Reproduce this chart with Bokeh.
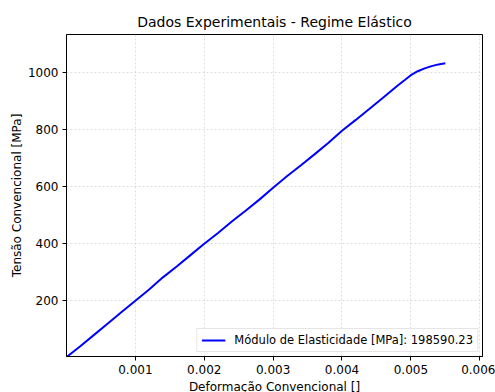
from bokeh.plotting import figure
from bokeh.models import FixedTicker, Range1d, Legend, LegendItem, CustomJSTickFormatter
from bokeh.embed import file_html
from bokeh.resources import INLINE

# Elastic-regime test data: conventional strain [-] and conventional stress [MPa]
strain = [0.0, 0.0002, 0.0004, 0.0006, 0.0008, 0.0010, 0.0012, 0.0014, 0.0016,
          0.0018, 0.0020, 0.0022, 0.0024, 0.0026, 0.0028, 0.0030, 0.0032, 0.0034,
          0.0036, 0.0038, 0.0040, 0.0042, 0.0044, 0.0046, 0.0048, 0.0050, 0.0051,
          0.0052, 0.0053, 0.0054, 0.0055]
stress = [0, 38, 78, 118, 158, 198, 237, 280, 318, 358, 398, 436, 476, 514, 553,
          595, 635, 673, 712, 752, 795, 833, 872, 912, 952, 990, 1004, 1014, 1022,
          1028, 1032]

x_ticks = [0.001, 0.002, 0.003, 0.004, 0.005, 0.006]
y_ticks = [200, 400, 600, 800, 1000]
legend_label = "Módulo de Elasticidade [MPa]: 198590.23"

FONT = "DejaVu Sans"

p = figure(frame_width=416, frame_height=322, output_backend="svg",
           toolbar_location=None,
           x_range=Range1d(0.0, 0.00604), y_range=Range1d(2, 1133),
           min_border_left=66, min_border_right=13, min_border_top=34,
           min_border_bottom=36)

p.title.text = "Dados Experimentais - Regime Elástico"
p.title.text_font = FONT
p.title.text_font_size = "14px"
p.title.text_font_style = "normal"
p.title.align = "center"
p.title.text_color = "#000000"

line = p.line(strain, stress, line_color="#0000ff", line_width=2)

p.xaxis.ticker = FixedTicker(ticks=x_ticks)
p.yaxis.ticker = FixedTicker(ticks=y_ticks)
p.xaxis.formatter = CustomJSTickFormatter(code="return tick.toFixed(3);")
p.xaxis.axis_label = "Deformação Convencional []"
p.yaxis.axis_label = "Tensão Convencional [MPa]"

for ax in (p.xaxis, p.yaxis):
    ax.axis_label_text_font = FONT
    ax.axis_label_text_font_size = "12px"
    ax.axis_label_text_font_style = "normal"
    ax.axis_label_text_color = "#000000"
    ax.major_label_text_font = FONT
    ax.major_label_text_font_size = "12px"
    ax.major_label_text_color = "#000000"
    ax.major_tick_in = 0
    ax.major_tick_out = 4
    ax.minor_tick_line_color = None
    ax.axis_line_color = "#000000"
    ax.major_tick_line_color = "#000000"
p.xaxis.major_label_standoff = 4
p.yaxis.major_label_standoff = 4
p.xaxis.axis_label_standoff = 3
p.yaxis.axis_label_standoff = 1

p.outline_line_color = "#000000"
p.outline_line_width = 1
p.outline_line_alpha = 1

p.xgrid.grid_line_color = "#c8c8c8"
p.ygrid.grid_line_color = "#c8c8c8"
p.xgrid.grid_line_dash = "2 2"
p.ygrid.grid_line_dash = "2 2"
p.xgrid.grid_line_width = 0.6
p.ygrid.grid_line_width = 0.6

legend = Legend(items=[LegendItem(label=legend_label, renderers=[line])],
                location="bottom_right")
legend.label_text_font = FONT
legend.label_text_font_size = "11.5px"
legend.label_text_color = "#000000"
legend.border_line_color = "#cccccc"
legend.border_line_width = 1
legend.background_fill_alpha = 0.8
legend.glyph_width = 24
legend.label_height = 14
legend.glyph_height = 14
legend.label_standoff = 9
legend.margin = 4
legend.padding = 4
legend.spacing = 0
p.add_layout(legend)

open("out.html", "w").write(file_html(p, INLINE))
